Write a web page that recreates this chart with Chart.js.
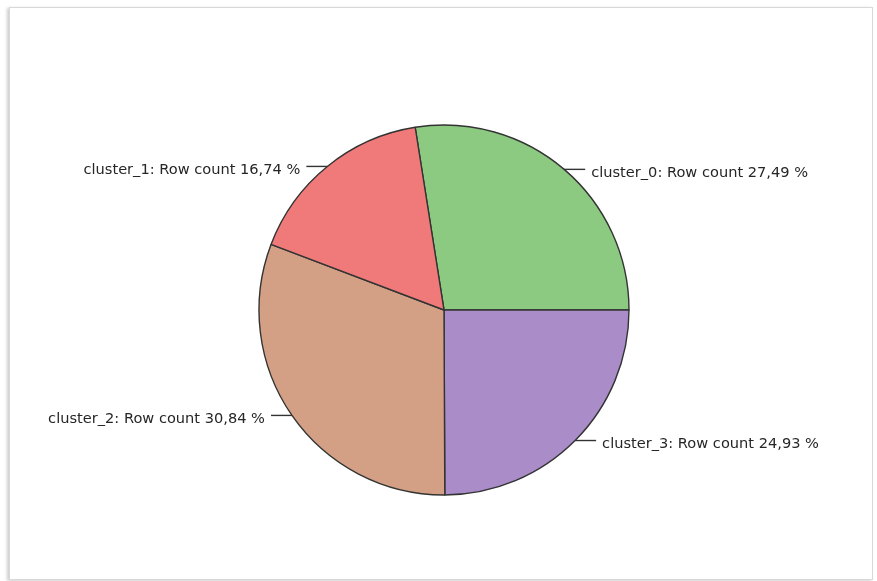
<!DOCTYPE html>
<html>
<head>
<meta charset="utf-8">
<script src="https://cdn.jsdelivr.net/npm/chart.js@4.4.0/dist/chart.umd.min.js"></script>
<style>
  html, body { margin: 0; padding: 0; background: #fff; }
  body { width: 877px; height: 581px; position: relative; overflow: hidden; }
  #panel {
    position: absolute; left: 9px; top: 7px; width: 862px; height: 571px;
    border: 1px solid #d8d8d8; background: #fff;
    box-shadow: -2px 1px 3px rgba(0,0,0,0.2);
  }
  #wrap { position: absolute; left: 0; top: 0; width: 877px; height: 581px; }
</style>
</head>
<body>
<div id="panel"></div>
<div id="wrap"><canvas id="pie"></canvas></div>
<script>
// slices in drawing order (clockwise from the top)
const categories = ['cluster_0', 'cluster_3', 'cluster_2', 'cluster_1'];
const rowCountPct = [27.49, 24.93, 30.84, 16.74];
const sliceColors = ['#8cca82', '#a98cc8', '#d4a085', '#f07a7a'];

// first slice ends exactly at 3 o'clock
const startRotation = 90 - rowCountPct[0] * 3.6;

const labelPlugin = {
  id: 'leaderLabels',
  afterDatasetsDraw(chart) {
    const ctx = chart.ctx;
    const meta = chart.getDatasetMeta(0);
    ctx.save();
    ctx.font = '14.6px "DejaVu Sans", sans-serif';
    ctx.fillStyle = '#262626';
    ctx.strokeStyle = '#333';
    ctx.lineWidth = 1.4;
    meta.data.forEach((arc, i) => {
      const mid = (arc.startAngle + arc.endAngle) / 2;
      const px = arc.x + Math.cos(mid) * arc.outerRadius;
      const py = arc.y + Math.sin(mid) * arc.outerRadius;
      const right = Math.cos(mid) >= 0;
      const ex = px + (right ? 21 : -21);
      ctx.beginPath();
      ctx.moveTo(px, py);
      ctx.lineTo(ex, py);
      ctx.stroke();
      const txt = categories[i] + ': Row count ' + rowCountPct[i].toFixed(2).replace('.', ',') + ' %';
      ctx.textAlign = right ? 'left' : 'right';
      ctx.textBaseline = 'middle';
      ctx.fillText(txt, ex + (right ? 6 : -6), py + 4);
    });
    ctx.restore();
  }
};

new Chart(document.getElementById('pie'), {
  type: 'pie',
  data: {
    labels: categories,
    datasets: [{
      data: rowCountPct,
      backgroundColor: sliceColors,
      borderColor: '#333',
      borderWidth: 1.4
    }]
  },
  options: {
    responsive: true,
    maintainAspectRatio: false,
    animation: false,
    rotation: startRotation,
    radius: 185,
    layout: { padding: { left: 11, top: 39, right: 0, bottom: 0 } },
    plugins: {
      legend: { display: false },
      tooltip: { enabled: false }
    }
  },
  plugins: [labelPlugin]
});
</script>
</body>
</html>
